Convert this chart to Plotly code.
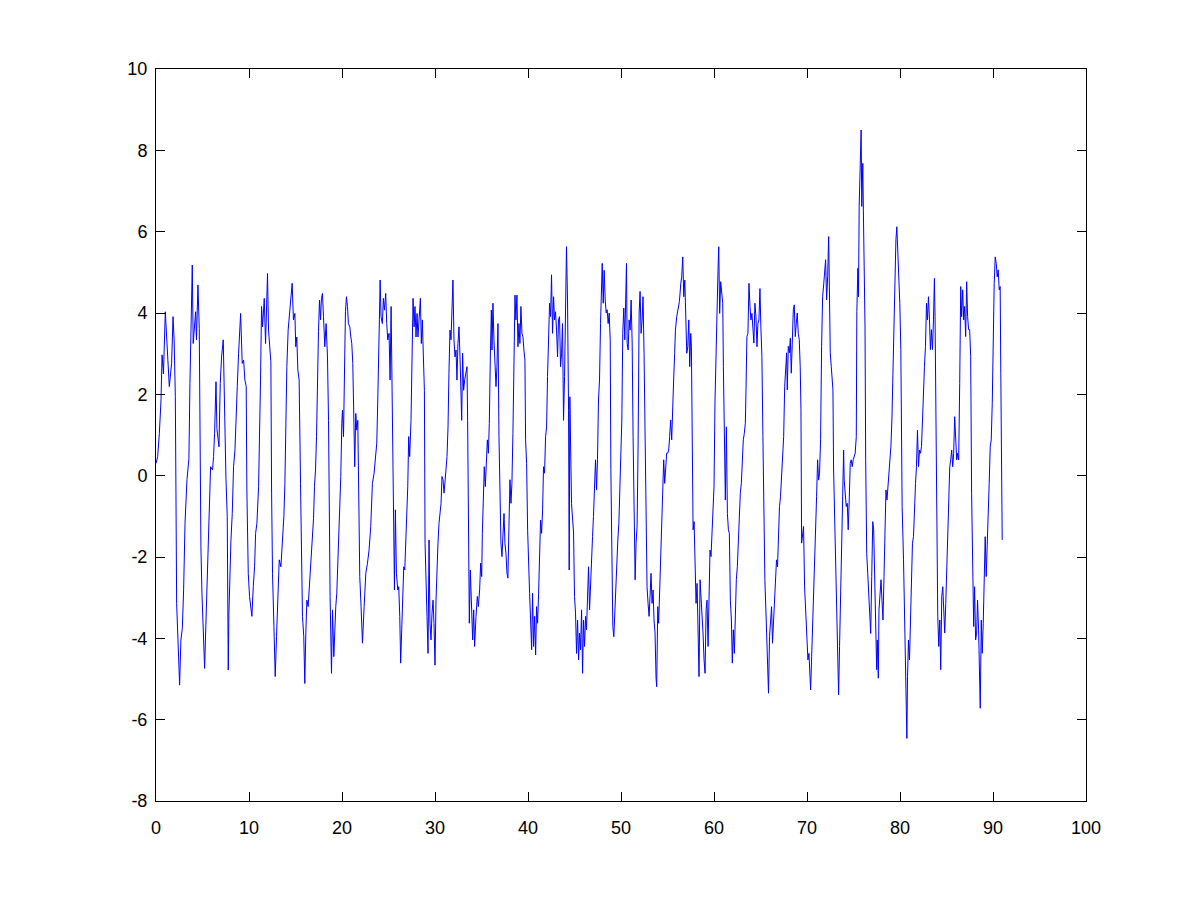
import plotly.graph_objects as go

# time samples
t = [
0.0,0.18,0.36,0.54,0.65,0.8,1.0,1.15,1.43,1.68,1.83,1.95,2.08,2.22,2.4,2.54,2.68,2.83,2.97,3.12,3.33,3.54,3.65,3.76,3.9,4.0,4.26,4.35,4.51,4.65,4.73,4.83,4.94,5.08,5.23,5.33,5.44,5.58,5.73,5.87,6.08,6.19,6.3,6.45,6.55,6.77,6.91,7.05,7.23,7.37,7.52,7.66,7.77,7.84,7.95,8.06,8.2,8.34,8.49,8.63,8.74,8.88,8.99,9.1,9.27,9.42,9.56,9.7,9.77,9.92,10.06,10.2,10.31,10.46,10.6,10.71,10.85,
11.03,11.14,11.24,11.35,11.46,11.64,11.78,11.92,11.99,12.1,12.24,12.35,12.43,12.53,12.68,12.82,12.96,13.1,13.25,13.43,13.53,13.64,13.75,13.86,13.96,14.07,14.21,14.36,14.5,14.64,14.78,14.93,15.03,15.14,15.25,15.39,15.54,15.64,15.75,15.89,16.0,16.11,16.22,16.36,16.5,16.61,16.72,16.83,16.94,17.04,17.15,17.26,17.36,17.47,17.58,17.69,17.79,17.9,18.01,18.15,18.29,18.44,18.55,18.62,18.72,18.87,18.98,19.12,19.23,19.33,19.44,19.55,19.69,19.8,19.87,19.98,20.05,20.16,20.26,20.37,20.48,20.59,20.69,20.84,20.95,21.05,21.16,21.27,21.37,21.48,21.59,21.7,21.8,21.91,22.05,22.2,
22.38,22.56,22.74,22.91,23.09,23.27,23.45,23.59,23.74,23.84,23.95,24.02,24.1,24.2,24.34,24.45,24.56,24.7,24.81,24.92,25.06,25.17,25.28,25.35,25.42,25.53,25.64,25.74,25.85,26.0,26.1,26.21,26.31,26.42,26.53,26.64,26.75,26.85,26.96,27.07,27.17,27.28,27.42,27.53,27.64,27.75,27.85,27.96,28.07,28.17,28.28,28.43,28.53,28.64,28.75,28.86,28.93,29.03,29.14,29.25,29.36,29.46,29.57,29.68,29.79,29.89,30.0,30.11,30.22,30.32,30.43,30.54,30.65,30.75,30.86,30.97,31.08,31.18,31.29,31.4,31.5,31.61,31.72,31.83,31.93,32.04,32.15,32.26,32.36,32.47,32.58,32.69,32.76,32.87,32.97,33.08,33.19,33.33,33.44,33.51,
33.6,33.69,33.8,33.94,34.05,34.16,34.26,34.41,34.55,34.66,34.8,34.91,35.02,35.09,35.2,35.3,35.41,35.52,35.63,35.74,35.84,35.95,36.06,36.13,36.23,36.34,36.45,36.56,36.66,36.77,36.88,36.99,37.09,37.2,37.31,37.42,37.52,37.63,37.74,37.84,37.95,38.06,38.17,38.27,38.38,38.49,38.6,38.7,38.81,38.92,39.03,39.13,39.24,39.35,39.46,39.56,39.67,39.74,39.85,39.96,40.06,40.17,40.28,40.39,40.49,40.6,40.71,40.82,40.92,41.03,41.14,41.25,41.35,41.46,41.57,41.67,41.78,41.89,42.0,42.1,42.21,42.32,42.43,42.53,42.64,42.75,42.85,42.96,43.07,43.18,43.28,43.39,43.5,43.61,43.71,43.82,43.93,44.04,44.14,44.25,44.36,44.43,44.5,
44.68,44.79,44.9,45.0,45.11,45.22,45.33,45.44,45.54,45.65,45.76,45.87,45.97,46.08,46.19,46.29,46.4,46.51,46.62,46.72,46.83,46.94,47.04,47.15,47.26,47.37,47.47,47.58,47.69,47.8,47.9,47.98,48.09,48.19,48.3,48.41,48.51,48.62,48.73,48.84,48.91,49.01,49.12,49.23,49.34,49.44,49.55,49.66,49.77,49.87,49.98,50.09,50.19,50.3,50.41,50.51,50.59,50.66,50.77,50.87,50.98,51.09,51.2,51.3,51.41,51.52,51.62,51.73,51.84,51.95,52.05,52.16,52.27,52.37,52.48,52.59,52.7,52.8,52.91,53.02,53.12,53.23,53.34,53.45,53.55,53.66,53.77,53.84,53.95,54.05,54.16,54.27,54.38,54.48,54.59,54.7,54.8,54.91,55.02,55.13,55.23,55.34,55.45,55.55,55.66,55.77,
55.85,55.99,56.14,56.28,56.43,56.53,56.64,56.75,56.86,56.96,57.07,57.18,57.29,57.39,57.5,57.57,57.65,57.75,57.86,57.97,58.07,58.18,58.29,58.39,58.5,58.61,58.72,58.82,58.93,59.04,59.15,59.25,59.36,59.47,59.57,59.68,59.79,59.9,60.0,60.11,60.22,60.33,60.43,60.51,60.61,60.72,60.83,60.94,61.01,61.12,61.22,61.33,61.44,61.55,61.65,61.76,61.87,61.97,62.08,62.19,62.3,62.4,62.51,62.62,62.72,62.83,62.94,63.05,63.15,63.26,63.37,63.44,63.54,63.65,63.76,63.87,63.97,64.08,64.19,64.29,64.4,64.51,64.62,64.72,64.83,64.94,65.04,65.15,65.26,65.37,65.47,65.58,65.69,65.79,65.86,65.97,66.08,66.19,66.29,66.4,66.51,66.61,66.72,66.83,66.94,67.04,67.15,67.26,67.36,
67.49,67.6,67.7,67.81,67.88,67.99,68.1,68.21,68.31,68.42,68.53,68.63,68.74,68.85,68.95,69.06,69.17,69.27,69.35,69.42,69.53,69.63,69.74,69.88,69.99,70.1,70.21,70.32,70.39,70.5,70.6,70.71,70.82,70.93,71.03,71.14,71.25,71.35,71.46,71.57,71.68,71.79,71.9,72.0,72.11,72.22,72.33,72.43,72.5,72.61,72.72,72.79,72.86,72.97,73.08,73.18,73.29,73.4,73.5,73.61,73.72,73.83,73.94,74.0,74.11,74.22,74.33,74.43,74.54,74.65,74.75,74.86,74.97,75.08,75.18,75.3,75.36,75.47,75.54,75.61,75.68,75.75,75.82,75.89,76.0,76.06,76.14,76.24,76.31,76.42,76.53,76.64,76.74,76.85,76.96,77.07,77.17,77.28,77.39,77.49,77.56,77.67,77.74,77.85,77.96,78.06,78.17,78.28,78.38,78.49,78.6,78.71,78.81,
78.91,79.02,79.13,79.23,79.34,79.45,79.56,79.66,79.77,79.88,79.98,80.09,80.23,80.38,80.49,80.63,80.74,80.81,80.91,81.02,81.13,81.24,81.34,81.45,81.56,81.67,81.77,81.88,81.99,82.1,82.2,82.31,82.42,82.53,82.63,82.74,82.85,82.95,83.06,83.17,83.27,83.38,83.49,83.6,83.7,83.77,83.85,83.95,84.06,84.17,84.28,84.38,84.49,84.6,84.71,84.81,84.92,85.03,85.13,85.24,85.35,85.45,85.56,85.67,85.77,85.88,85.99,86.1,86.2,86.31,86.42,86.53,86.63,86.74,86.85,86.95,87.06,87.17,87.27,87.38,87.49,87.6,87.7,87.81,87.92,88.02,88.13,88.24,88.34,88.45,88.56,88.63,88.74,88.84,88.95,89.06,89.16,89.27,89.38,89.49,89.59,89.7,89.81,89.92,90.02,90.13,90.24,90.35,90.45,90.56,90.67,90.77,90.84,90.91,90.99,
]

# signal values
v = [
0.3,0.47,1.04,1.86,2.97,2.5,4.03,3.41,2.19,2.76,3.91,3.34,1.94,-3.14,-4.37,-5.15,-4.04,-3.75,-2.81,-1.17,-0.1,0.42,2.27,4.16,5.18,3.25,4.03,3.34,4.69,3.62,0.55,-1.75,-2.89,-3.96,-4.74,-3.92,-3.06,-2.28,-0.68,0.22,0.14,0.47,1.04,2.31,1.16,0.71,2.27,2.92,3.34,1.08,-0.06,-1.0,-4.78,-3.38,-2.4,-1.58,-0.93,0.22,0.63,1.86,2.19,3.01,3.46,3.99,2.76,2.84,2.35,2.19,-0.35,-2.4,-2.97,-3.3,-3.46,-2.73,-2.24,-1.42,-1.17,
-0.27,0.88,2.35,4.16,3.66,4.36,3.25,4.4,4.97,3.58,3.17,2.8,-0.43,-2.4,-3.71,-4.94,-3.96,-3.22,-2.07,-2.24,-1.83,-1.5,-1.0,-0.19,1.28,2.68,3.58,4.03,4.24,4.73,3.83,3.99,3.17,3.41,2.6,2.35,-0.19,-2.07,-3.46,-3.96,-5.11,-3.87,-3.06,-3.22,-2.73,-2.24,-1.91,-1.5,-1.05,-0.27,0.14,0.96,2.6,3.54,4.32,3.83,4.36,4.48,3.91,3.17,3.74,2.92,1.36,-1.58,-2.97,-4.86,-3.3,-4.45,-3.63,-3.22,-2.89,-2.15,-1.09,-0.6,-0.02,1.28,1.61,0.96,3.09,4.03,4.4,4.16,3.74,3.66,3.41,3.25,2.76,0.96,0.22,1.53,1.12,1.36,-1.34,-2.48,-3.22,-4.12,
-3.22,-2.4,-2.15,-1.83,-1.25,-0.19,0.06,0.47,0.8,1.78,2.68,3.83,4.81,3.91,3.74,4.36,4.07,4.48,3.74,3.34,3.5,2.35,4.16,3.01,0.8,-0.84,-2.81,-0.84,-2.4,-2.81,-2.73,-3.46,-4.61,-3.79,-2.89,-2.24,-2.32,-1.66,-1.0,-0.27,0.96,0.47,1.36,3.25,4.36,3.66,4.16,3.41,3.99,3.41,3.83,4.36,3.25,3.83,2.92,2.1,-1.66,-2.32,-3.46,-4.37,-1.58,-3.63,-4.04,-3.38,-3.06,-3.63,-4.66,-3.06,-2.07,-1.66,-1.17,-0.84,-0.68,-0.02,-0.1,-0.43,-0.19,0.14,0.47,1.2,2.52,3.58,3.34,4.16,4.81,3.34,2.92,3.09,2.35,3.25,3.66,2.92,1.94,1.36,3.01,2.1,2.35,2.6,2.68,1.36,
-2.4,-3.63,-2.32,-3.14,-4.04,-3.3,-4.2,-3.46,-2.97,-3.22,-2.81,-2.15,-2.48,-1.42,-0.52,0.22,-0.27,0.63,0.88,0.55,1.28,2.92,4.07,3.09,4.24,3.34,2.76,2.19,2.68,3.74,0.96,-1.25,-1.66,-1.99,-1.42,-0.93,-1.66,-1.91,-2.4,-2.52,-1.25,-0.1,-0.68,-0.19,1.04,3.01,4.44,3.83,4.44,3.17,3.74,3.25,4.16,3.5,3.41,3.09,2.84,0.88,0.3,-1.34,-2.32,-2.89,-3.55,-4.28,-2.89,-4.2,-3.46,-4.41,-3.22,-3.63,-2.89,-1.75,-1.09,-1.42,-0.84,0.22,0.06,0.96,1.2,2.44,3.34,4.24,3.91,4.94,3.5,4.4,3.83,4.03,3.58,2.92,3.83,3.91,2.68,3.01,3.74,1.36,2.44,4.56,5.63,4.32,1.61,-2.32,1.94,
-0.68,-1.0,-1.41,-2.97,-3.38,-4.37,-3.55,-4.53,-3.87,-4.28,-3.3,-4.86,-3.55,-4.2,-3.46,-3.79,-2.73,-2.24,-3.3,-2.56,-2.07,-1.5,-1.0,-0.27,0.39,-0.35,0.39,1.86,2.35,3.74,4.89,5.22,4.24,5.05,4.32,4.0,4.08,3.74,4.0,3.34,0.15,-2.56,-3.71,-3.96,-3.22,-2.81,-2.07,-1.58,-1.17,-0.35,0.55,1.37,3.5,4.12,3.34,4.65,5.22,3.26,3.09,3.83,3.58,4.32,3.26,0.96,-1.66,-2.56,-1.66,-1.25,0.8,4.0,4.53,3.5,3.83,4.4,3.01,0.39,-2.07,-2.73,-3.14,-3.46,-2.97,-2.4,-3.14,-2.81,-3.55,-3.87,-4.98,-5.19,-3.22,-3.63,-2.81,-1.91,-1.25,-0.68,0.39,-0.19,0.23,0.55,0.55,0.63,0.96,1.37,0.88,1.94,2.35,3.01,
3.58,3.91,4.12,4.28,4.73,4.89,5.38,4.4,4.81,3.66,3.01,3.17,3.83,2.68,3.5,3.17,-0.02,-1.33,-1.13,-2.24,-3.14,-2.65,-4.2,-4.94,-2.56,-2.97,-3.3,-3.87,-4.53,-4.86,-3.3,-3.06,-4.2,-2.32,-1.83,-1.99,-1.33,-0.93,-0.27,1.86,3.17,4.48,5.05,5.63,3.99,4.77,4.56,4.24,2.68,0.71,-0.6,1.2,-0.93,-1.33,-1.42,-3.06,-3.55,-4.61,-3.79,-4.37,-3.14,-2.56,-2.24,-1.58,-1.09,-0.43,-0.19,0.71,0.88,1.04,1.29,2.1,3.42,3.5,4.73,4.16,3.83,3.99,3.66,3.26,4.24,3.91,3.17,3.74,3.83,4.6,3.66,2.93,0.96,-1.83,-2.56,-3.3,-4.2,-4.45,-5.35,-3.96,-3.47,-3.22,-4.12,-3.55,-3.14,-2.4,-2.07,-2.24,-1.25,-0.76,-0.52,-0.02,0.23,
0.96,2.19,2.77,3.02,2.11,3.18,3.02,3.38,2.52,3.42,4.08,4.2,3.42,3.75,4.0,3.5,3.34,2.68,1.62,-1.66,-1.5,-1.25,-2.73,-3.38,-3.96,-4.53,-4.37,-5.1,-5.27,-4.45,-3.79,-2.97,-2.16,-1.25,-0.52,0.39,-0.11,0.06,0.88,3.18,4.4,4.69,4.94,5.31,4.32,4.89,5.88,4.08,3.02,2.68,2.36,2.11,0.14,-1.09,-1.83,-3.79,-4.45,-5.39,-4.2,-2.81,-1.5,-0.6,0.63,-0.11,-0.35,-0.76,-0.68,-1.33,-0.6,0.3,0.39,0.22,0.39,0.47,0.55,0.96,4.04,5.1,4.4,6.62,7.2,8.42,8.5,6.62,7.68,6.53,5.06,3.66,0.39,-1.91,-2.4,-3.06,-3.63,-3.88,-2.48,-1.13,-1.33,-2.89,-4.2,-4.77,-4.04,-4.98,-3.3,-2.97,-2.56,-3.06,-3.55,-2.48,-1.58,-0.35,-0.6,-0.27,-0.11,
0.22,0.71,1.37,2.6,3.46,4.69,5.8,6.12,5.55,5.06,4.24,3.1,-0.76,-2.07,-3.79,-5.6,-6.46,-4.94,-4.04,-4.53,-3.22,-2.32,-1.66,-1.5,-0.68,-0.19,0.22,1.12,0.22,0.63,0.55,0.71,1.37,2.43,2.68,3.18,4.24,3.83,4.4,3.83,3.1,3.59,3.1,3.83,4.85,3.91,1.86,-2.16,-3.47,-4.2,-3.55,-4.77,-2.97,-2.73,-3.3,-3.87,-3.14,-2.16,-1.09,-0.19,0.22,0.39,0.63,0.22,0.55,1.45,0.63,0.39,0.55,0.39,2.27,4.65,3.91,4.57,3.83,4.16,3.42,4.77,3.91,3.59,3.59,2.93,-0.43,-2.56,-3.71,-2.73,-4.04,-3.87,-3.06,-3.79,-5.02,-5.72,-3.55,-4.37,-3.63,-2.24,-1.5,-2.48,-1.83,-1.09,-0.19,0.71,0.88,1.78,3.99,4.73,5.38,5.22,4.89,5.06,4.57,4.65,2.52,-0.85,-1.58,
]

# axis ticks
x_ticks = [0, 10, 20, 30, 40, 50, 60, 70, 80, 90, 100]
x_tick_text = ["0", "10", "20", "30", "40", "50", "60", "70", "80", "90", "100"]
y_ticks = [-8, -6, -4, -2, 0, 2, 4, 6, 8, 10]
y_tick_text = ["-8", "-6", "-4", "-2", "0", "2", "4", "6", "8", "10"]

fig = go.Figure()
fig.add_trace(go.Scatter(
    x=t, y=v, mode="lines",
    line=dict(color="#0000FF", width=1),
    showlegend=False, hoverinfo="skip",
))

axis_common = dict(
    showline=True, linecolor="black", linewidth=1, mirror="ticks",
    ticks="inside", ticklen=9, tickwidth=1, tickcolor="black",
    showgrid=False, zeroline=False,
    tickfont=dict(family="Liberation Sans, Arial, sans-serif", size=18, color="black"),
)

fig.update_layout(
    width=1200, height=901,
    paper_bgcolor="white", plot_bgcolor="white",
    margin=dict(l=148, r=122, t=61, b=108, pad=0),
    xaxis=dict(range=[0, 100], tickvals=x_ticks, ticktext=x_tick_text,
               ticklabelstandoff=10, **axis_common),
    yaxis=dict(range=[-8, 10], tickvals=y_ticks, ticktext=y_tick_text,
               ticklabelstandoff=4, **axis_common),
)

fig.write_html("out.html")
